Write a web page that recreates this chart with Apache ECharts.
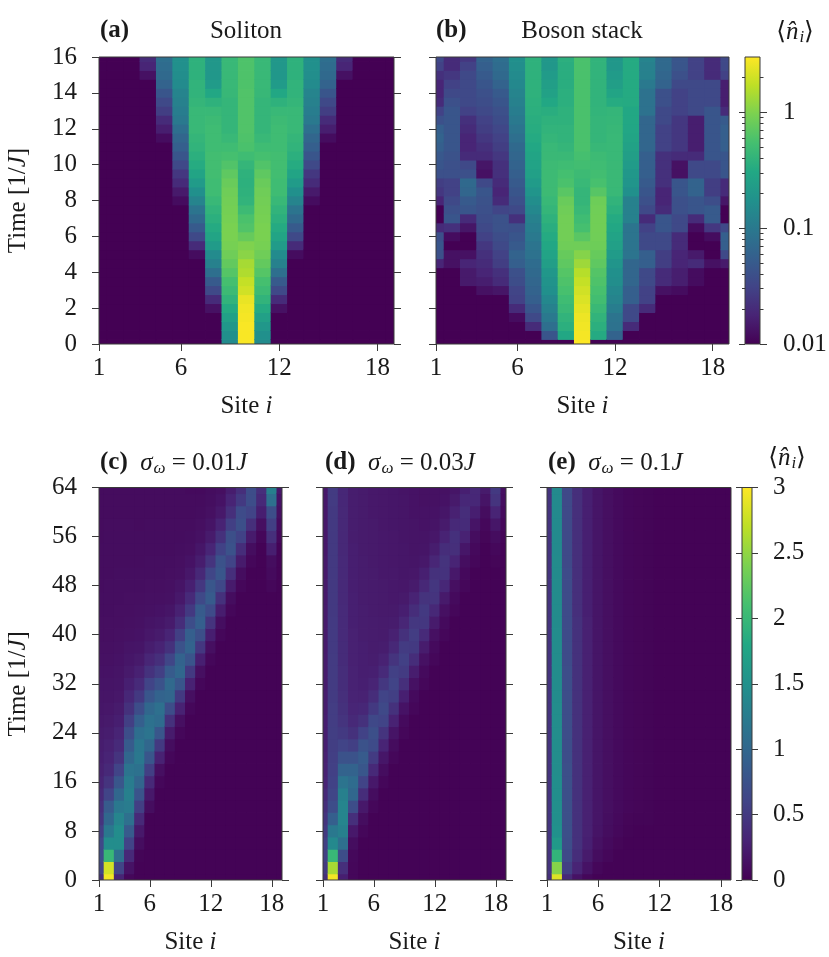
<!DOCTYPE html>
<html lang="en">
<head>
<meta charset="UTF-8">
<title>Soliton and boson stack densities</title>
<script src="https://cdn.jsdelivr.net/npm/echarts@6/dist/echarts.min.js"></script>
<style>
  html, body { margin: 0; padding: 0; background: #ffffff; }
  #main { width: 829px; height: 957px; }
</style>
</head>
<body>
<div id="main"></div>
<script>
// ---- data ----
var sites = [1, 2, 3, 4, 5, 6, 7, 8, 9, 10, 11, 12, 13, 14, 15, 16, 17, 18, 19];
var timesTop = [0, 0.5, 1, 1.5, 2, 2.5, 3, 3.5, 4, 4.5, 5, 5.5, 6, 6.5, 7, 7.5, 8, 8.5, 9, 9.5, 10, 10.5, 11, 11.5, 12, 12.5, 13, 13.5, 14, 14.5, 15, 15.5, 16];
var timesBottom = [0, 2, 4, 6, 8, 10, 12, 14, 16, 18, 20, 22, 24, 26, 28, 30, 32, 34, 36, 38, 40, 42, 44, 46, 48, 50, 52, 54, 56, 58, 60, 62, 64];
var siteTicks = [1, 6, 12, 18];
var logBarMajor = [0.01, 0.1, 1];
var logBarMinor = [0.02, 0.03, 0.04, 0.05, 0.06, 0.07, 0.08, 0.09, 0.2, 0.3, 0.4, 0.5, 0.6, 0.7, 0.8, 0.9, 2];
var logBarRange = [0.01, 3];
var linBarRange = [0, 3];

// (a) soliton, one array per site, rows t = 0 ... 16
var a1 = [.01,.01,.01,.01,.01,.01,.01,.01,.01,.01,.01, .01,.01,.01,.01,.01,.01,.01,.01,.01,.01,.01, .01,.01,.01,.01,.01,.01,.01,.01,.01,.01,.01];
var a4 = [.01,.01,.01,.01,.01,.01,.01,.01,.01,.01,.01, .01,.01,.01,.01,.01,.01,.01,.01,.01,.01,.01, .01,.01,.01,.01,.01,.01,.01,.01,.013,.018,.02];
var a5 = [.01,.01,.01,.01,.01,.01,.01,.01,.01,.01,.01, .01,.01,.01,.01,.01,.01,.01,.01,.01,.01,.01, .01,.012,.016,.02,.028,.035,.045,.06,.07,.075,.08];
var a6 = [.01,.01,.01,.01,.01,.01,.01,.01,.01,.01,.01, .01,.01,.01,.01,.01,.012,.015,.02,.025,.035,.045, .055,.065,.08,.1,.11,.12,.13,.15,.16,.17,.17];
var a7 = [.01,.01,.01,.01,.01,.01,.01,.01,.01,.01,.012, .02,.035,.05,.07,.09,.13,.17,.22,.28,.33,.36, .4,.42,.45,.45,.45,.42,.4,.4,.38,.38,.38];
var a8 = [.01,.01,.01,.01,.013,.02,.035,.05,.08,.12,.15, .22,.28,.32,.36,.4,.45,.5,.5,.52,.52,.52, .5,.5,.5,.48,.45,.38,.3,.22,.2,.2,.2];
var a9 = [.15,.17,.2,.25,.32,.4,.48,.55,.65,.75,.85, .92,.95,.95,.92,.9,.88,.85,.8,.72,.62,.55, .5,.45,.42,.42,.42,.42,.44,.45,.45,.45,.45];
var a10 = [2.9,2.9,2.9,2.8,2.7,2.5,2,1.8,1.5,1.4,1.1, 1,.78,.62,.58,.48,.4,.38,.37,.38,.42,.5, .58,.6,.62,.62,.62,.62,.62,.6,.6,.6,.6];
var solitonN = [a1, a1, a1, a4, a5, a6, a7, a8, a9, a10, a9, a8, a7, a6, a5, a4, a1, a1, a1];

// (b) boson stack
var stackN = [
  [.01,.01,.01,.01,.01,.01,.01,.01,.01,.018,.04, .045,.04,.02,.01,.01,.018,.025,.028,.04,.045,.048, .055,.06,.055,.04,.03,.02,.018,.018,.022,.03,.035],
  [.01,.01,.01,.01,.01,.01,.01,.01,.01,.013,.013, .01,.012,.022,.045,.04,.035,.03,.03,.04,.04,.042, .045,.045,.045,.045,.045,.04,.035,.03,.025,.02,.02],
  [.01,.01,.01,.01,.01,.01,.01,.015,.015,.018,.013, .01,.01,.014,.02,.045,.05,.065,.07,.04,.035,.02, .018,.018,.02,.022,.03,.035,.035,.035,.035,.03,.025],
  [.01,.01,.01,.01,.01,.01,.013,.016,.018,.02,.022, .025,.03,.035,.038,.04,.042,.045,.035,.013,.014,.02, .022,.025,.028,.03,.035,.038,.04,.045,.05,.055,.06],
  [.01,.01,.01,.01,.01,.01,.014,.02,.022,.028,.03, .035,.038,.042,.042,.032,.02,.018,.02,.022,.022,.025, .028,.03,.033,.037,.04,.045,.05,.06,.07,.075,.08],
  [.01,.01,.01,.012,.02,.03,.032,.038,.04,.055,.06, .05,.045,.04,.022,.035,.04,.045,.05,.055,.06,.065, .07,.08,.09,.1,.11,.12,.13,.14,.15,.16,.17],
  [.01,.01,.02,.035,.045,.055,.06,.065,.07,.075,.085, .09,.1,.11,.12,.14,.16,.19,.22,.25,.27,.28, .3,.32,.34,.35,.36,.37,.38,.38,.38,.38,.38],
  [.01,.045,.08,.1,.12,.14,.17,.18,.2,.24,.27, .3,.32,.35,.38,.42,.45,.48,.48,.48,.48,.46, .45,.42,.4,.38,.35,.3,.26,.24,.22,.2,.2],
  [.01,.3,.36,.4,.46,.5,.56,.6,.65,.72,.78, .85,.88,.88,.88,.85,.8,.68,.58,.54,.5,.46, .42,.4,.4,.38,.38,.36,.36,.35,.35,.35,.36],
  [3,2.8,2.7,2.6,2.4,2.2,2,1.8,1.6,1.3,1.05, .85,.68,.55,.5,.45,.42,.42,.45,.48,.52,.55, .58,.58,.58,.58,.58,.58,.58,.58,.58,.58,.58],
  [.01,.32,.36,.4,.46,.52,.56,.6,.64,.72,.78, .84,.86,.87,.87,.86,.84,.66,.56,.52,.5,.48, .44,.42,.42,.42,.41,.4,.4,.4,.4,.4,.4],
  [.01,.06,.085,.09,.11,.13,.14,.16,.17,.19,.22, .25,.27,.3,.32,.36,.4,.45,.46,.46,.46,.45, .45,.45,.44,.43,.42,.33,.28,.24,.22,.2,.2],
  [.01,.01,.02,.035,.035,.055,.055,.065,.065,.065,.09, .09,.09,.09,.12,.12,.12,.17,.19,.2,.22,.24, .26,.28,.29,.3,.3,.32,.32,.32,.32,.32,.32],
  [.01,.01,.01,.01,.02,.03,.03,.035,.035,.055,.055, .035,.035,.03,.02,.035,.04,.045,.05,.055,.055,.055, .065,.065,.065,.065,.085,.085,.085,.1,.12,.12,.13],
  [.01,.01,.01,.01,.01,.01,.013,.02,.02,.028,.028, .035,.035,.045,.045,.02,.018,.018,.022,.022,.022,.022, .03,.03,.03,.035,.035,.04,.04,.06,.065,.07,.07],
  [.01,.01,.01,.01,.01,.01,.012,.016,.016,.018,.018, .02,.02,.035,.035,.04,.04,.045,.045,.013,.013,.02, .025,.025,.025,.025,.03,.03,.03,.035,.04,.045,.045],
  [.01,.01,.01,.01,.01,.01,.01,.012,.012,.02,.015, .01,.01,.012,.02,.045,.045,.06,.06,.035,.035,.02, .016,.016,.016,.016,.035,.035,.035,.035,.03,.03,.03],
  [.01,.01,.01,.01,.01,.01,.01,.01,.01,.013,.01, .01,.012,.025,.05,.05,.038,.028,.028,.035,.035,.045, .045,.045,.045,.045,.045,.035,.035,.035,.02,.02,.02],
  [.01,.01,.01,.01,.01,.01,.01,.01,.01,.015,.035, .055,.055,.035,.01,.01,.014,.02,.02,.045,.045,.045, .055,.055,.055,.05,.02,.016,.016,.016,.03,.035,.035]
];

// (c) sigma_w = 0.01J, rows t = 0 ... 64
var sigma001N = [
  [.4,.6,.7,.65,.55,.45,.4,.35,.3,.27,.25, .24,.22,.2,.18,.17,.16,.15,.14,.13,.12,.12, .11,.11,.1,.1,.1,.1,.09,.09,.09,.09,.09],
  [2.95,2.8,2,1.45,1.2,1,.85,.6,.45,.35,.3, .27,.24,.21,.19,.17,.16,.15,.14,.13,.12,.12, .11,.11,.11,.1,.1,.1,.1,.1,.09,.09,.09],
  [.3,.6,1.1,1.45,1.45,1.35,1.2,1,.8,.6,.45, .36,.3,.25,.22,.19,.17,.16,.15,.14,.13,.12, .12,.11,.11,.11,.1,.1,.1,.1,.09,.09,.09],
  [.05,.15,.35,.6,.85,1.1,1.25,1.3,1.25,1.15,1, .85,.7,.55,.42,.33,.26,.21,.18,.16,.14,.13, .12,.12,.11,.11,.1,.1,.1,.1,.09,.09,.09],
  [.02,.02,.03,.1,.2,.35,.55,.78,.98,1.12,1.2, 1.18,1.08,.9,.7,.5,.36,.27,.21,.17,.15,.14, .13,.12,.11,.11,.1,.1,.1,.09,.09,.09,.09],
  [.02,.02,.02,.02,.02,.02,.1,.2,.35,.55,.8, 1,1.15,1.12,1,.8,.6,.43,.32,.24,.19,.16, .14,.13,.12,.11,.11,.1,.1,.1,.09,.09,.09],
  [.02,.02,.02,.02,.02,.02,.02,.02,.05,.12,.28, .5,.8,1.05,1.1,.95,.75,.55,.4,.29,.22,.18, .15,.13,.12,.11,.11,.1,.1,.1,.09,.09,.09],
  [.02,.02,.02,.02,.02,.02,.02,.02,.02,.02,.05, .1,.22,.42,.7,.98,1.02,.85,.62,.42,.3,.22, .17,.14,.13,.12,.11,.1,.1,.1,.09,.09,.09],
  [.02,.02,.02,.02,.02,.02,.02,.02,.02,.02,.02, .02,.05,.12,.28,.5,.8,1,.95,.75,.55,.38, .27,.2,.16,.13,.12,.11,.1,.1,.09,.09,.09],
  [.02,.02,.02,.02,.02,.02,.02,.02,.02,.02,.02, .02,.02,.02,.05,.12,.28,.5,.78,.95,.9,.7, .5,.36,.26,.19,.15,.12,.11,.1,.09,.09,.08],
  [.02,.02,.02,.02,.02,.02,.02,.02,.02,.02,.02, .02,.02,.02,.02,.02,.05,.12,.26,.48,.72,.9, .85,.66,.48,.34,.24,.18,.14,.12,.1,.09,.08],
  [.02,.02,.02,.02,.02,.02,.02,.02,.02,.02,.02, .02,.02,.02,.02,.02,.02,.02,.05,.12,.25,.45, .68,.85,.8,.62,.45,.31,.22,.16,.13,.11,.1],
  [.02,.02,.02,.02,.02,.02,.02,.02,.02,.02,.02, .02,.02,.02,.02,.02,.02,.02,.02,.02,.05,.11, .24,.42,.64,.8,.76,.58,.42,.29,.2,.15,.12],
  [.02,.02,.02,.02,.02,.02,.02,.02,.02,.02,.02, .02,.02,.02,.02,.02,.02,.02,.02,.02,.02,.02, .05,.1,.22,.4,.6,.75,.72,.55,.4,.3,.24],
  [.02,.02,.02,.02,.02,.02,.02,.02,.02,.02,.02, .02,.02,.02,.02,.02,.02,.02,.02,.02,.02,.02, .02,.02,.05,.1,.22,.38,.58,.72,.68,.5,.4],
  [.02,.02,.02,.02,.02,.02,.02,.02,.02,.02,.02, .02,.02,.02,.02,.02,.02,.02,.02,.02,.02,.02, .02,.02,.02,.02,.05,.1,.22,.4,.6,.7,.7],
  [.02,.02,.02,.02,.02,.02,.02,.02,.02,.02,.02, .02,.02,.02,.02,.02,.02,.02,.02,.02,.02,.02, .02,.02,.02,.02,.02,.02,.05,.12,.25,.35,.4],
  [.02,.02,.02,.02,.02,.02,.02,.02,.02,.02,.02, .02,.02,.02,.02,.02,.02,.02,.02,.02,.02,.02, .02,.02,.05,.08,.1,.25,.4,.55,.7,1.1,1.3],
  [.02,.02,.02,.02,.02,.02,.02,.02,.02,.02,.02, .02,.02,.02,.02,.02,.02,.02,.02,.02,.02,.02, .02,.02,.02,.02,.02,.02,.05,.08,.12,.15,.2]
];

// (d) sigma_w = 0.03J
var sigma003N = [
  [.4,.5,.55,.55,.5,.45,.4,.35,.3,.28,.27, .26,.25,.25,.24,.24,.23,.23,.23,.22,.22,.22, .22,.21,.21,.21,.21,.2,.2,.2,.2,.2,.2],
  [2.95,2.6,2,1.4,1.2,.9,.7,.62,.58,.56,.55, .54,.54,.53,.53,.52,.52,.52,.52,.51,.51,.51, .5,.5,.5,.5,.5,.5,.5,.5,.5,.52,.52],
  [.25,.4,.7,1.1,1.3,1.35,1.35,1.3,1.15,.95,.75, .6,.5,.45,.42,.4,.38,.38,.37,.37,.36,.36, .36,.35,.35,.35,.35,.34,.34,.34,.34,.33,.33],
  [.05,.05,.06,.1,.2,.4,.7,1,1.05,.95,.75, .55,.42,.35,.31,.29,.28,.28,.27,.27,.27,.26, .26,.26,.25,.25,.25,.25,.24,.24,.24,.24,.24],
  [.02,.02,.02,.02,.05,.1,.2,.38,.6,.8,.85, .75,.58,.42,.33,.28,.26,.25,.25,.25,.24,.24, .24,.23,.23,.23,.23,.22,.22,.22,.22,.22,.22],
  [.02,.02,.02,.02,.02,.02,.05,.1,.2,.35,.52, .68,.72,.64,.5,.38,.3,.26,.24,.23,.23,.23, .22,.22,.22,.22,.21,.21,.21,.21,.2,.2,.2],
  [.02,.02,.02,.02,.02,.02,.02,.02,.05,.1,.18, .3,.45,.6,.65,.6,.48,.36,.28,.24,.22,.22, .21,.21,.21,.2,.2,.2,.2,.19,.19,.19,.19],
  [.02,.02,.02,.02,.02,.02,.02,.02,.02,.02,.05, .09,.16,.28,.42,.55,.6,.56,.45,.34,.27,.23, .21,.2,.2,.2,.19,.19,.19,.18,.18,.18,.18],
  [.02,.02,.02,.02,.02,.02,.02,.02,.02,.02,.02, .02,.05,.08,.15,.26,.4,.52,.56,.52,.42,.32, .25,.21,.19,.18,.18,.18,.17,.17,.17,.17,.16],
  [.02,.02,.02,.02,.02,.02,.02,.02,.02,.02,.02, .02,.02,.02,.05,.08,.14,.24,.38,.5,.53,.48, .38,.29,.22,.19,.17,.16,.16,.16,.15,.15,.15],
  [.02,.02,.02,.02,.02,.02,.02,.02,.02,.02,.02, .02,.02,.02,.02,.02,.05,.08,.14,.23,.36,.48, .5,.44,.34,.26,.2,.17,.16,.15,.15,.14,.14],
  [.02,.02,.02,.02,.02,.02,.02,.02,.02,.02,.02, .02,.02,.02,.02,.02,.02,.02,.05,.08,.13,.22, .34,.45,.47,.42,.32,.24,.19,.16,.15,.14,.14],
  [.02,.02,.02,.02,.02,.02,.02,.02,.02,.02,.02, .02,.02,.02,.02,.02,.02,.02,.02,.02,.05,.08, .13,.21,.33,.43,.44,.38,.29,.22,.18,.15,.14],
  [.02,.02,.02,.02,.02,.02,.02,.02,.02,.02,.02, .02,.02,.02,.02,.02,.02,.02,.02,.02,.02,.02, .05,.08,.12,.2,.3,.4,.41,.35,.27,.21,.17],
  [.02,.02,.02,.02,.02,.02,.02,.02,.02,.02,.02, .02,.02,.02,.02,.02,.02,.02,.02,.02,.02,.02, .02,.02,.05,.07,.11,.18,.28,.37,.38,.33,.26],
  [.02,.02,.02,.02,.02,.02,.02,.02,.02,.02,.02, .02,.02,.02,.02,.02,.02,.02,.02,.02,.02,.02, .02,.02,.02,.02,.05,.07,.1,.16,.25,.33,.34],
  [.02,.02,.02,.02,.02,.02,.02,.02,.02,.02,.02, .02,.02,.02,.02,.02,.02,.02,.02,.02,.02,.02, .02,.02,.02,.02,.02,.02,.04,.06,.1,.16,.22],
  [.02,.02,.02,.02,.02,.02,.02,.02,.02,.02,.02, .02,.02,.02,.02,.02,.02,.02,.02,.02,.02,.02, .02,.02,.02,.02,.04,.06,.1,.18,.3,.45,.5],
  [.02,.02,.02,.02,.02,.02,.02,.02,.02,.02,.02, .02,.02,.02,.02,.02,.02,.02,.02,.02,.02,.02, .02,.02,.02,.02,.02,.02,.03,.05,.08,.1,.12]
];

// (e) sigma_w = 0.1J
var sigma01N = [
  [.4,.45,.45,.46,.46,.46,.46,.45,.45,.45,.45, .45,.45,.45,.45,.45,.45,.45,.45,.45,.45,.45, .45,.45,.45,.45,.45,.45,.45,.45,.45,.45,.45],
  [2.85,2.45,1.95,1.6,1.5,1.48,1.47,1.46,1.46,1.45,1.45, 1.45,1.45,1.45,1.45,1.44,1.44,1.44,1.44,1.44,1.44,1.43, 1.43,1.43,1.43,1.43,1.43,1.42,1.42,1.42,1.42,1.42,1.42],
  [.35,.55,.65,.7,.72,.72,.72,.72,.72,.72,.7, .7,.7,.7,.7,.7,.7,.7,.68,.68,.68,.68, .68,.68,.68,.68,.66,.66,.66,.66,.66,.66,.66],
  [.15,.3,.38,.42,.42,.42,.42,.42,.42,.42,.42, .42,.42,.42,.42,.42,.42,.42,.42,.42,.42,.42, .4,.4,.4,.4,.4,.4,.4,.4,.4,.4,.4],
  [.05,.15,.22,.26,.27,.27,.27,.27,.27,.27,.27, .27,.27,.27,.27,.27,.27,.27,.27,.27,.27,.27, .26,.26,.26,.26,.26,.26,.26,.26,.26,.26,.26],
  [.02,.05,.1,.14,.16,.17,.17,.17,.17,.17,.17, .17,.17,.17,.17,.17,.17,.17,.17,.17,.17,.17, .17,.17,.17,.17,.17,.17,.17,.17,.17,.17,.17],
  [.02,.02,.05,.08,.1,.11,.12,.12,.12,.12,.12, .12,.12,.12,.12,.12,.12,.12,.12,.12,.12,.12, .12,.12,.12,.12,.12,.12,.12,.12,.12,.12,.12],
  [.02,.02,.02,.04,.06,.07,.08,.08,.08,.08,.08, .08,.08,.08,.08,.08,.08,.08,.08,.08,.08,.08, .08,.08,.08,.08,.08,.08,.08,.08,.08,.08,.08],
  [.02,.02,.02,.02,.03,.04,.05,.05,.05,.05,.05, .05,.05,.05,.05,.05,.05,.05,.05,.05,.05,.05, .05,.05,.05,.05,.05,.05,.05,.05,.05,.05,.05],
  [.02,.02,.02,.02,.02,.03,.04,.04,.04,.04,.04, .04,.04,.04,.04,.04,.04,.04,.04,.04,.04,.04, .04,.04,.04,.04,.04,.04,.04,.04,.04,.04,.04],
  [.02,.02,.02,.02,.02,.03,.03,.03,.03,.03,.03, .03,.03,.03,.03,.03,.03,.03,.03,.03,.03,.03, .03,.03,.03,.03,.03,.03,.03,.03,.03,.03,.03],
  [.02,.02,.02,.02,.02,.02,.02,.02,.02,.02,.02, .02,.02,.02,.02,.02,.02,.02,.02,.02,.02,.02, .02,.02,.02,.02,.02,.02,.02,.02,.02,.02,.02],
  [.02,.02,.02,.02,.02,.02,.02,.02,.02,.02,.02, .02,.02,.02,.02,.02,.02,.02,.02,.02,.02,.02, .02,.02,.02,.02,.02,.02,.02,.02,.02,.02,.02],
  [.02,.02,.02,.02,.02,.02,.02,.02,.02,.02,.02, .02,.02,.02,.02,.02,.02,.02,.02,.02,.02,.02, .02,.02,.02,.02,.02,.02,.02,.02,.02,.02,.02],
  [.02,.02,.02,.02,.02,.02,.02,.02,.02,.02,.02, .02,.02,.02,.02,.02,.02,.02,.02,.02,.02,.02, .02,.02,.02,.02,.02,.02,.02,.02,.02,.02,.02],
  [.02,.02,.02,.02,.02,.02,.02,.02,.02,.02,.02, .02,.02,.02,.02,.02,.02,.02,.02,.02,.02,.02, .02,.02,.02,.02,.02,.02,.02,.02,.02,.02,.02],
  [.02,.02,.02,.02,.02,.02,.02,.02,.02,.02,.02, .02,.02,.02,.02,.02,.02,.02,.02,.02,.02,.02, .02,.02,.02,.02,.02,.02,.02,.02,.02,.02,.02],
  [.02,.02,.02,.02,.02,.02,.02,.02,.02,.02,.02, .02,.02,.02,.02,.02,.02,.02,.02,.02,.02,.02, .02,.02,.02,.02,.02,.02,.02,.02,.02,.02,.02],
  [.02,.02,.02,.02,.02,.02,.02,.02,.02,.02,.02, .02,.02,.02,.02,.02,.02,.02,.02,.02,.02,.02, .02,.02,.02,.02,.02,.02,.02,.02,.02,.02,.02]
];

// ---- styling ----
var FONT = '"Liberation Serif", "DejaVu Serif", serif';
var INK = '#1a1a1a';
var FRAME = '#3a3a3a';
var viridisStops = ['#440154', '#482475', '#414487', '#355f8d', '#2a788e', '#21918c',
                    '#22a884', '#44bf70', '#7ad151', '#bddf26', '#fde725'];
var RICH = {
  r: { fontFamily: FONT, fontSize: 25, color: INK },
  b: { fontFamily: FONT, fontSize: 25, fontWeight: 'bold', color: INK },
  it: { fontFamily: FONT, fontSize: 25, fontStyle: 'italic', color: INK },
  sub: { fontFamily: FONT, fontSize: 17, fontStyle: 'italic', color: INK, padding: [12, 0, 0, 1] }
};

var logLo = Math.log10(logBarRange[0]), logHi = Math.log10(logBarRange[1]);
function logColor(v) {
  return echarts.color.lerp((Math.log10(v) - logLo) / (logHi - logLo), viridisStops);
}
function linColor(v) {
  return echarts.color.lerp((v - linBarRange[0]) / (linBarRange[1] - linBarRange[0]), viridisStops);
}

// grid rectangles (px)
var boxes = [
  { left: 99, top: 57, width: 295, height: 287 },      // 0 (a)
  { left: 436, top: 57, width: 293, height: 287 },     // 1 (b)
  { left: 745, top: 57, width: 15, height: 287 },      // 2 log bar, major ticks
  { left: 745, top: 57, width: 15, height: 287 },      // 3 log bar, minor ticks
  { left: 99, top: 487.5, width: 183, height: 392.5 }, // 4 (c)
  { left: 323, top: 487.5, width: 183, height: 392.5 },// 5 (d)
  { left: 547, top: 487.5, width: 184, height: 392.5 },// 6 (e)
  { left: 742, top: 487.5, width: 10, height: 392.5 }  // 7 linear bar
];
var grids = boxes.map(function (b) {
  return { left: b.left, top: b.top, width: b.width, height: b.height,
           containLabel: false, outerBoundsMode: 'none' };
});

function siteAxis(g) {
  return {
    type: 'value', gridIndex: g, min: 1, max: 19, z: 5,
    axisLine: { show: false },
    axisTick: { show: true, length: 7, customValues: siteTicks, lineStyle: { color: FRAME } },
    axisLabel: { show: true, customValues: siteTicks, margin: 12, fontFamily: FONT, fontSize: 25, color: INK },
    splitLine: { show: false },
    name: '{r|Site }{it|i}', nameLocation: 'middle', nameGap: 50,
    nameTextStyle: { rich: RICH }
  };
}
function hiddenX(g) {
  return { type: 'value', gridIndex: g, min: 0, max: 1, show: false };
}
function timeAxis(g, max, step, side, labels) {
  var ax = {
    type: 'value', gridIndex: g, min: 0, max: max, interval: step, position: side, z: 5,
    axisLine: { show: false },
    axisTick: { show: true, length: 7, lineStyle: { color: FRAME } },
    axisLabel: { show: labels, margin: 22, fontFamily: FONT, fontSize: 25, color: INK },
    splitLine: { show: false }
  };
  if (labels) {
    ax.name = '{r|Time [1/}{it|J}{r|]}';
    ax.nameLocation = 'middle';
    ax.nameGap = 68;
    ax.nameTextStyle = { rich: RICH };
  }
  return ax;
}
function barAxis(g, lo, hi, side, opts) {
  return {
    type: 'value', gridIndex: g, min: lo, max: hi, position: side, z: 5,
    interval: opts.interval,
    axisLine: { show: false },
    axisTick: { show: true, length: opts.len, customValues: opts.ticks, lineStyle: { color: FRAME } },
    axisLabel: { show: !!opts.labels, customValues: opts.ticks, margin: opts.margin || 8,
                 fontFamily: FONT, fontSize: 25, color: INK, formatter: opts.formatter },
    splitLine: { show: false }
  };
}

var logMajor = logBarMajor.map(Math.log10);
var logMinor = logBarMinor.map(Math.log10);
function powLabel(v) { return String(+Math.pow(10, v).toPrecision(1)); }

var xAxes = [
  siteAxis(0), siteAxis(1), hiddenX(2), hiddenX(3), siteAxis(4), siteAxis(5), siteAxis(6), hiddenX(7)
];
var yAxes = [
  timeAxis(0, 16, 2, 'left', true),     // 0
  timeAxis(0, 16, 2, 'right', false),   // 1
  timeAxis(1, 16, 2, 'left', false),    // 2
  barAxis(2, logLo, logHi, 'left', { len: 6, ticks: logMajor }),                                             // 3
  barAxis(2, logLo, logHi, 'right', { len: 7, ticks: logMajor, labels: true, margin: 23, formatter: powLabel }), // 4
  barAxis(3, logLo, logHi, 'left', { len: 3, ticks: logMinor }),                                             // 5
  barAxis(3, logLo, logHi, 'right', { len: 3.5, ticks: logMinor }),                                          // 6
  timeAxis(4, 64, 8, 'left', true),     // 7
  timeAxis(4, 64, 8, 'right', false),   // 8
  timeAxis(5, 64, 8, 'left', false),    // 9
  timeAxis(5, 64, 8, 'right', false),   // 10
  timeAxis(6, 64, 8, 'left', false),    // 11
  barAxis(7, 0, 3, 'left', { len: 6, interval: 0.5 }),                                                       // 12
  barAxis(7, 0, 3, 'right', { len: 6, interval: 0.5, labels: true, margin: 21 })                              // 13
];

function clipTo(params, r) {
  var c = params.coordSys;
  return echarts.graphic.clipRectByRect(r, { x: c.x, y: c.y, width: c.width, height: c.height });
}

function cellSeries(axisX, axisY, cols, times, colorFn) {
  var dt = times[1] - times[0];
  var data = [];
  cols.forEach(function (col, i) {
    col.forEach(function (v, j) { data.push([sites[i], times[j], v]); });
  });
  return {
    type: 'custom', xAxisIndex: axisX, yAxisIndex: axisY, silent: true, z: 2,
    data: data, encode: { x: 0, y: 1 },
    renderItem: function (params, api) {
      var s = api.value(0), t = api.value(1), v = api.value(2);
      var p0 = api.coord([s - 0.5, t + dt / 2]);
      var p1 = api.coord([s + 0.5, t - dt / 2]);
      // a little overlap so neighbouring cells leave no hairline seams
      var rect = clipTo(params, { x: p0[0] - 0.4, y: p0[1] - 0.4,
                                  width: p1[0] - p0[0] + 0.8, height: p1[1] - p0[1] + 0.8 });
      if (!rect) return;
      return { type: 'rect', shape: rect, style: { fill: colorFn(v) } };
    }
  };
}

function barSeries(axisX, axisY, lo, hi) {
  var stops = viridisStops.map(function (c, i) { return { offset: i / (viridisStops.length - 1), color: c }; });
  return {
    type: 'custom', xAxisIndex: axisX, yAxisIndex: axisY, silent: true, z: 2,
    data: [[0, lo, 1, hi]], encode: { x: [0, 2], y: [1, 3] },
    renderItem: function (params, api) {
      var p0 = api.coord([api.value(0), api.value(3)]);
      var p1 = api.coord([api.value(2), api.value(1)]);
      return {
        type: 'rect',
        shape: { x: p0[0], y: p0[1], width: p1[0] - p0[0], height: p1[1] - p0[1] },
        style: { fill: new echarts.graphic.LinearGradient(0, 1, 0, 0, stops) }
      };
    }
  };
}

var series = [
  cellSeries(0, 0, solitonN, timesTop, logColor),
  cellSeries(1, 2, stackN, timesTop, logColor),
  barSeries(2, 3, logLo, logHi),
  cellSeries(4, 7, sigma001N, timesBottom, linColor),
  cellSeries(5, 9, sigma003N, timesBottom, linColor),
  cellSeries(6, 11, sigma01N, timesBottom, linColor),
  barSeries(7, 12, linBarRange[0], linBarRange[1])
];

// frames and panel titles
var graphics = [];
[0, 1, 2, 4, 5, 6, 7].forEach(function (i) {
  var b = boxes[i];
  graphics.push({ type: 'rect', z: 100, silent: true,
    shape: { x: b.left, y: b.top, width: b.width, height: b.height },
    style: { fill: 'none', stroke: FRAME, lineWidth: 1 } });
});
function label(x, y, text, align) {
  graphics.push({ type: 'text', z: 100, silent: true, x: x, y: y,
    style: { text: text, rich: RICH, align: align || 'left', verticalAlign: 'middle',
             fontFamily: FONT, fontSize: 25, fill: INK } });
}
label(100, 31, '{b|(a)}');
label(246, 31, '{r|Soliton}', 'center');
label(436, 31, '{b|(b)}');
label(582, 31, '{r|Boson stack}', 'center');
label(795, 32, '{r|⟨}{it|n̂}{sub|i}{r|⟩}', 'center');
label(100, 463, '{b|(c)}{r|  }{it|σ}{sub|ω}{r| = 0.01}{it|J}');
label(325, 463, '{b|(d)}{r|  }{it|σ}{sub|ω}{r| = 0.03}{it|J}');
label(548, 463, '{b|(e)}{r|  }{it|σ}{sub|ω}{r| = 0.1}{it|J}');
label(787, 458, '{r|⟨}{it|n̂}{sub|i}{r|⟩}', 'center');

var chart = echarts.init(document.getElementById('main'));
chart.setOption({
  animation: false,
  backgroundColor: '#ffffff',
  textStyle: { fontFamily: FONT },
  grid: grids,
  xAxis: xAxes,
  yAxis: yAxes,
  series: series,
  graphic: { elements: graphics }
});
</script>
</body>
</html>
